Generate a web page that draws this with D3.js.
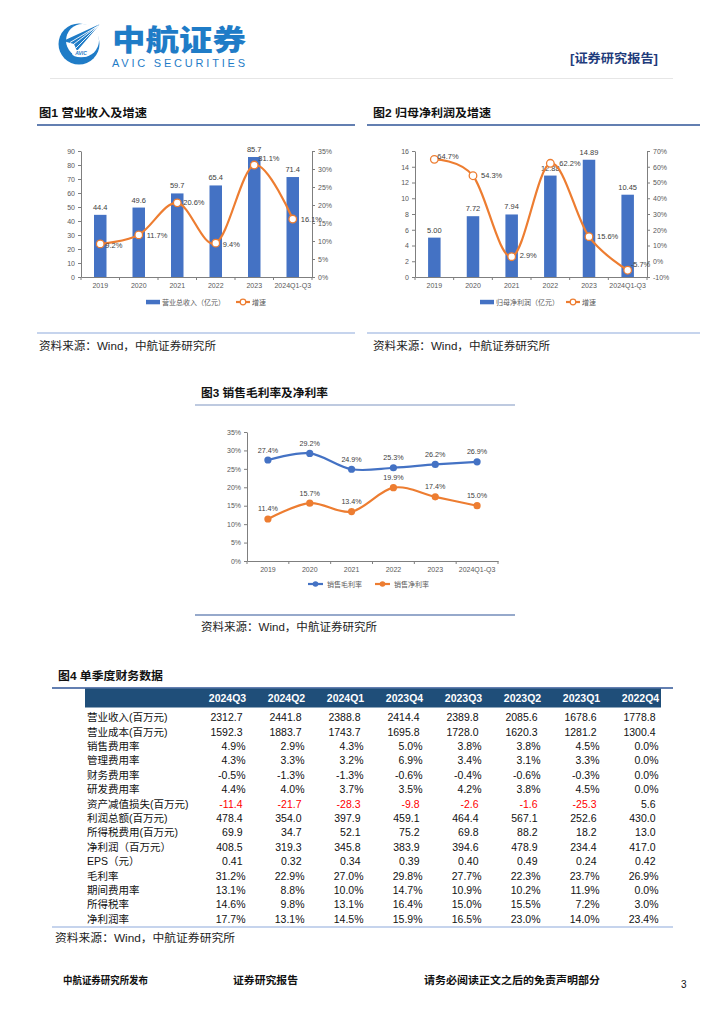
<!DOCTYPE html>
<html><head><meta charset="utf-8">
<script src="https://cdn.jsdelivr.net/npm/d3@7"></script>
<style>
body{margin:0;background:#fff;}
svg{display:block;}
text{font-family:"Liberation Sans",Arial,"Noto Sans CJK SC",sans-serif;}
</style></head><body>
<svg id="page" width="724" height="1024"></svg>
<script>
// ---------- DATA ----------
const years = ["2019","2020","2021","2022","2023","2024Q1-Q3"];
const revenue = [44.4, 49.6, 59.7, 65.4, 85.7, 71.4];
const revenueGrowth = [9.2, 11.7, 20.6, 9.4, 31.1, 16.1];
const netProfit = [5.00, 7.72, 7.94, 12.88, 14.89, 10.45];
const netProfitGrowth = [64.7, 54.3, 2.9, 62.2, 15.6, -5.7];
const grossMargin = [27.4, 29.2, 24.9, 25.3, 26.2, 26.9];
const netMargin = [11.4, 15.7, 13.4, 19.9, 17.4, 15.0];

const revenueTicks = [0,10,20,30,40,50,60,70,80,90];
const revenueGrowthTicks = [0,5,10,15,20,25,30,35];
const profitTicks = [0,2,4,6,8,10,12,14,16];
const profitGrowthTicks = [-10,0,10,20,30,40,50,60,70];
const marginTicks = [0,5,10,15,20,25,30,35];

const quarters = ["2024Q3","2024Q2","2024Q1","2023Q4","2023Q3","2023Q2","2023Q1","2022Q4"];
const rowLabels = ["营业收入(百万元)","营业成本(百万元)","销售费用率","管理费用率","财务费用率","研发费用率","资产减值损失(百万元)","利润总额(百万元)","所得税费用(百万元)","净利润（百万元）","EPS（元）","毛利率","期间费用率","所得税率","净利润率"];
const rowFormats = ["f1","f1","pct","pct","pct","pct","f1","f1","f1","f1","f2","pct","pct","pct","pct"];
const tableValues = [
  [2312.7, 2441.8, 2388.8, 2414.4, 2389.8, 2085.6, 1678.6, 1778.8],
  [1592.3, 1883.7, 1743.7, 1695.8, 1728.0, 1620.3, 1281.2, 1300.4],
  [4.9, 2.9, 4.3, 5.0, 3.8, 3.8, 4.5, 0.0],
  [4.3, 3.3, 3.2, 6.9, 3.4, 3.1, 3.3, 0.0],
  [-0.5, -1.3, -1.3, -0.6, -0.4, -0.6, -0.3, 0.0],
  [4.4, 4.0, 3.7, 3.5, 4.2, 3.8, 4.5, 0.0],
  [-11.4, -21.7, -28.3, -9.8, -2.6, -1.6, -25.3, 5.6],
  [478.4, 354.0, 397.9, 459.1, 464.4, 567.1, 252.6, 430.0],
  [69.9, 34.7, 52.1, 75.2, 69.8, 88.2, 18.2, 13.0],
  [408.5, 319.3, 345.8, 383.9, 394.6, 478.9, 234.4, 417.0],
  [0.41, 0.32, 0.34, 0.39, 0.40, 0.49, 0.24, 0.42],
  [31.2, 22.9, 27.0, 29.8, 27.7, 22.3, 23.7, 26.9],
  [13.1, 8.8, 10.0, 14.7, 10.9, 10.2, 11.9, 0.0],
  [14.6, 9.8, 13.1, 16.4, 15.0, 15.5, 7.2, 3.0],
  [17.7, 13.1, 14.5, 15.9, 16.5, 23.0, 14.0, 23.4]
];

// ---------- STYLE ----------
const BLUE = "#4472C4", ORANGE = "#ED7D31", AXIS = "#7F7F7F", TICKTXT = "#595959", LBL = "#404040";
const CJK = "'Noto Sans CJK SC',sans-serif";
const svg = d3.select("#page");

// ---------- HEADER ----------
const logo = svg.append("g").attr("fill", "#1F7CC7");
logo.append("circle").attr("cx",79).attr("cy",44).attr("r",20.5);
logo.append("circle").attr("cx",82.5).attr("cy",40.5).attr("r",16.5).attr("fill","#fff");
logo.append("path").attr("d","M63,41 L100,24 L77,51 L74,44 Z");
logo.append("path").attr("d","M74,44 L100,24 M70,42.5 L96,27 M76,48 L98,26").attr("stroke","#fff").attr("stroke-width",0.9).attr("fill","none");
logo.append("ellipse").attr("cx",81).attr("cy",53.5).attr("rx",9).attr("ry",3.8).attr("fill","#fff");
logo.append("text").attr("x",81).attr("y",55.3).attr("text-anchor","middle").attr("font-size",5).attr("font-weight",700).attr("font-style","italic").text("AVIC");
svg.append("text").attr("x",112).attr("y",51).attr("font-family",CJK).attr("font-weight",900).attr("font-size",29)
  .attr("fill","#1F7CC7").attr("textLength",134).attr("lengthAdjust","spacingAndGlyphs").text("中航证券");
svg.append("text").attr("x",112).attr("y",66.5).attr("font-size",11).attr("fill","#1F7CC7")
  .attr("textLength",133).attr("lengthAdjust","spacing").text("AVIC SECURITIES");
svg.append("text").attr("x",570).attr("y",63).attr("font-family",CJK).attr("font-weight",700).attr("font-size",12.5)
  .attr("fill","#1F3C7C").attr("textLength",88).attr("lengthAdjust","spacingAndGlyphs").text("[证券研究报告]");
svg.append("line").attr("x1",50).attr("x2",673).attr("y1",78.5).attr("y2",78.5).attr("stroke","#E6E6E6").attr("stroke-width",1);

// ---------- helpers ----------
function title(x, y, txt, len) {
  svg.append("text").attr("x",x).attr("y",y).attr("font-family",CJK).attr("font-weight",700).attr("font-size",11.5)
    .attr("fill","#111").attr("textLength",len).attr("lengthAdjust","spacingAndGlyphs").text(txt);
}
function hline(x1, x2, y, color, w) {
  svg.append("line").attr("x1",x1).attr("x2",x2).attr("y1",y).attr("y2",y).attr("stroke",color).attr("stroke-width",w);
}
function source(x, y, len) {
  svg.append("text").attr("x",x).attr("y",y).attr("font-family",CJK).attr("font-size",11).attr("fill","#222")
    .attr("textLength",len).attr("lengthAdjust","spacingAndGlyphs").text("资料来源：Wind，中航证券研究所");
}
function styleAxis(g) {
  g.selectAll(".domain").attr("stroke",AXIS);
  g.selectAll(".tick line").attr("stroke",AXIS);
  g.selectAll(".tick text").attr("fill",TICKTXT).attr("font-size",7).attr("font-family","'Liberation Sans',Arial,sans-serif");
}
function xAxisBand(x, y, g) {
  const ax = g.append("g").attr("transform",`translate(0,${y})`).call(d3.axisBottom(x).tickSize(0).tickPadding(6));
  styleAxis(ax);
  const edges = x.domain().map(d => x(d)).concat([x.range()[1]]);
  g.selectAll(null).data(edges).join("line").attr("x1",d=>d).attr("x2",d=>d).attr("y1",y).attr("y2",y+3).attr("stroke",AXIS);
}
const smooth = d3.curveCardinal.tension(0);

// ---------- COMBO CHART ----------
function combo(cfg) {
  const g = svg.append("g");
  const x = d3.scaleBand().domain(years).range([cfg.x0, cfg.x1]);
  const yL = d3.scaleLinear().domain(d3.extent(cfg.lTicks)).range([cfg.yb, cfg.yt]);
  const yR = d3.scaleLinear().domain(d3.extent(cfg.rTicks)).range([cfg.yb, cfg.yt]);
  const la = g.append("g").attr("transform",`translate(${cfg.x0},0)`)
    .call(d3.axisLeft(yL).tickValues(cfg.lTicks).tickSize(3).tickSizeOuter(0).tickPadding(3));
  styleAxis(la);
  const ra = g.append("g").attr("transform",`translate(${cfg.x1},0)`)
    .call(d3.axisRight(yR).tickValues(cfg.rTicks).tickSize(3).tickSizeOuter(0).tickPadding(3).tickFormat(d => d + "%"));
  styleAxis(ra);
  const bw = 12.5;
  g.selectAll(null).data(cfg.bars).join("rect")
    .attr("x",(d,i)=>x(years[i]) + x.bandwidth()/2 - bw/2).attr("width",bw)
    .attr("y",d=>yL(d)).attr("height",d=>yL(cfg.lTicks[0]) - yL(d)).attr("fill",BLUE);
  xAxisBand(x, cfg.yb, g);
  g.selectAll(null).data(cfg.bars).join("text")
    .attr("x",(d,i)=>x(years[i]) + x.bandwidth()/2).attr("y",d=>yL(d)-5)
    .attr("text-anchor","middle").attr("font-size",7.5).attr("fill",LBL).text(d=>d.toFixed(cfg.barDec));
  const pts = cfg.line.map((d,i)=>[x(years[i]) + x.bandwidth()/2, yR(d)]);
  g.append("path").attr("d", d3.line().curve(smooth)(pts)).attr("fill","none").attr("stroke",ORANGE).attr("stroke-width",2.2);
  g.selectAll(null).data(pts).join("circle").attr("cx",d=>d[0]).attr("cy",d=>d[1]).attr("r",3.8)
    .attr("fill","#fff").attr("stroke",ORANGE).attr("stroke-width",1.3);
  g.selectAll(null).data(cfg.line).join("text")
    .attr("x",(d,i)=>pts[i][0] + cfg.off[i][0]).attr("y",(d,i)=>pts[i][1] + cfg.off[i][1] + 2.6)
    .attr("font-size",7.5).attr("fill",LBL).text(d=>d.toFixed(1) + "%");
  // legend
  const ly = cfg.legendY;
  g.append("rect").attr("x",cfg.legX).attr("y",ly-2.2).attr("width",14).attr("height",4.5).attr("fill",BLUE);
  g.append("text").attr("x",cfg.legX+16).attr("y",ly+2.5).attr("font-family",CJK).attr("font-size",7).attr("fill",TICKTXT).text(cfg.barName);
  g.append("line").attr("x1",cfg.legX2).attr("x2",cfg.legX2+14).attr("y1",ly).attr("y2",ly).attr("stroke",ORANGE).attr("stroke-width",2.2);
  g.append("circle").attr("cx",cfg.legX2+7).attr("cy",ly).attr("r",2.8).attr("fill","#fff").attr("stroke",ORANGE).attr("stroke-width",1.2);
  g.append("text").attr("x",cfg.legX2+16).attr("y",ly+2.5).attr("font-family",CJK).attr("font-size",7).attr("fill",TICKTXT).text("增速");
}

// Figure 1
title(39, 117, "图1  营业收入及增速", 108);
hline(37, 355, 125, "#2F5597", 1.5);
combo({x0:81, x1:312, yt:151, yb:277, lTicks:revenueTicks, rTicks:revenueGrowthTicks,
  bars:revenue, line:revenueGrowth, barDec:1,
  off:[[5,2],[8,1],[6,0],[7,1],[4,-7],[8,0]],
  legendY:302, legX:146, legX2:236, barName:"营业总收入（亿元）"});
hline(37, 355, 333, "#8EA9DB", 1.2);
source(39, 350, 177);

// Figure 2
title(373, 117, "图2  归母净利润及增速", 118);
hline(367, 700, 125, "#2F5597", 1.5);
combo({x0:415, x1:647, yt:151, yb:277, lTicks:profitTicks, rTicks:profitGrowthTicks,
  bars:netProfit, line:netProfitGrowth, barDec:2,
  off:[[3,-3],[8,0],[8,-1],[9,0],[8,0],[3,-6]],
  legendY:302, legX:480, legX2:566, barName:"归母净利润（亿元）"});
hline(367, 700, 333, "#8EA9DB", 1.2);
source(373, 350, 177);

// Figure 3
title(201, 397, "图3  销售毛利率及净利率", 127);
hline(195, 515, 405, "#A9B8D6", 1.5);
(function(){
  const g = svg.append("g");
  const x = d3.scaleBand().domain(years).range([247, 498]);
  const y = d3.scaleLinear().domain(d3.extent(marginTicks)).range([561, 432]);
  const la = g.append("g").attr("transform","translate(247,0)")
    .call(d3.axisLeft(y).tickValues(marginTicks).tickSize(3).tickSizeOuter(0).tickPadding(3).tickFormat(d=>d+"%"));
  styleAxis(la);
  xAxisBand(x, 561, g);
  const series = [[grossMargin, BLUE], [netMargin, ORANGE]];
  series.forEach(([vals, col]) => {
    const pts = vals.map((d,i)=>[x(years[i]) + x.bandwidth()/2, y(d)]);
    g.append("path").attr("d", d3.line().curve(smooth)(pts)).attr("fill","none").attr("stroke",col).attr("stroke-width",2.2);
    g.selectAll(null).data(pts).join("circle").attr("cx",d=>d[0]).attr("cy",d=>d[1]).attr("r",3.6).attr("fill",col);
    g.selectAll(null).data(vals).join("text").attr("x",(d,i)=>pts[i][0]).attr("y",(d,i)=>pts[i][1]-7.5)
      .attr("text-anchor","middle").attr("font-size",7.2).attr("fill",LBL).text(d=>d.toFixed(1)+"%");
  });
  const leg = [["销售毛利率", BLUE, 308], ["销售净利率", ORANGE, 375]];
  leg.forEach(([name, col, lx]) => {
    g.append("line").attr("x1",lx).attr("x2",lx+15).attr("y1",584).attr("y2",584).attr("stroke",col).attr("stroke-width",2.2);
    g.append("circle").attr("cx",lx+7.5).attr("cy",584).attr("r",2.8).attr("fill",col);
    g.append("text").attr("x",lx+19).attr("y",586.5).attr("font-family",CJK).attr("font-size",7).attr("fill",TICKTXT).text(name);
  });
})();
hline(195, 515, 615, "#2F5597", 1.2);
source(201, 631, 176);

// Figure 4 table
title(58, 680, "图4  单季度财务数据", 105);
hline(52, 673, 688, "#2F5597", 1.5);
(function(){
  const g = svg.append("g");
  const cx = d3.scaleBand().domain(quarters).range([198, 670]);
  const ry = d3.scaleBand().domain(rowLabels).range([710, 926]);
  g.append("rect").attr("x",85).attr("y",688.5).attr("width",576).attr("height",19).attr("fill","#1F4E79");
  g.selectAll(null).data(quarters).join("text")
    .attr("x",d=>cx(d)+cx.bandwidth()/2).attr("y",702).attr("text-anchor","middle")
    .attr("font-weight",700).attr("font-size",10.5).attr("fill","#fff").text(d=>d);
  g.selectAll(null).data(rowLabels).join("text")
    .attr("x",87).attr("y",d=>ry(d)+ry.bandwidth()/2+4).attr("font-family",CJK).attr("font-size",10.5).attr("fill","#111").text(d=>d);
  const fmt = {f1:d=>d.toFixed(1), f2:d=>d.toFixed(2), pct:d=>d.toFixed(1)+"%"};
  tableValues.forEach((row, r) => {
    const f = rowFormats[r];
    g.selectAll(null).data(row).join("text")
      .attr("x",(d,i)=>cx(quarters[i]) + cx.bandwidth()/2 + (f === "pct" ? 18 : 15))
      .attr("y",ry(rowLabels[r]) + ry.bandwidth()/2 + 4)
      .attr("text-anchor","end").attr("font-size",10.5)
      .attr("fill", d => (r === 6 && d < 0) ? "#FF0000" : "#111")
      .text(d => fmt[f](d));
  });
})();
hline(52, 673, 927, "#8EA9DB", 1.2);
source(55, 942, 180);

// Footer
const foot = [["中航证券研究所发布", 63, 85], ["证券研究报告", 233, 65], ["请务必阅读正文之后的免责声明部分", 424, 176]];
foot.forEach(([t, x, len]) => {
  svg.append("text").attr("x",x).attr("y",984).attr("font-family",CJK).attr("font-weight",700).attr("font-size",10.5)
    .attr("fill","#111").attr("textLength",len).attr("lengthAdjust","spacingAndGlyphs").text(t);
});
svg.append("text").attr("x",681).attr("y",988).attr("font-family","'Liberation Serif',serif").attr("font-size",10).attr("fill","#111").text("3");
</script>
</body></html>
